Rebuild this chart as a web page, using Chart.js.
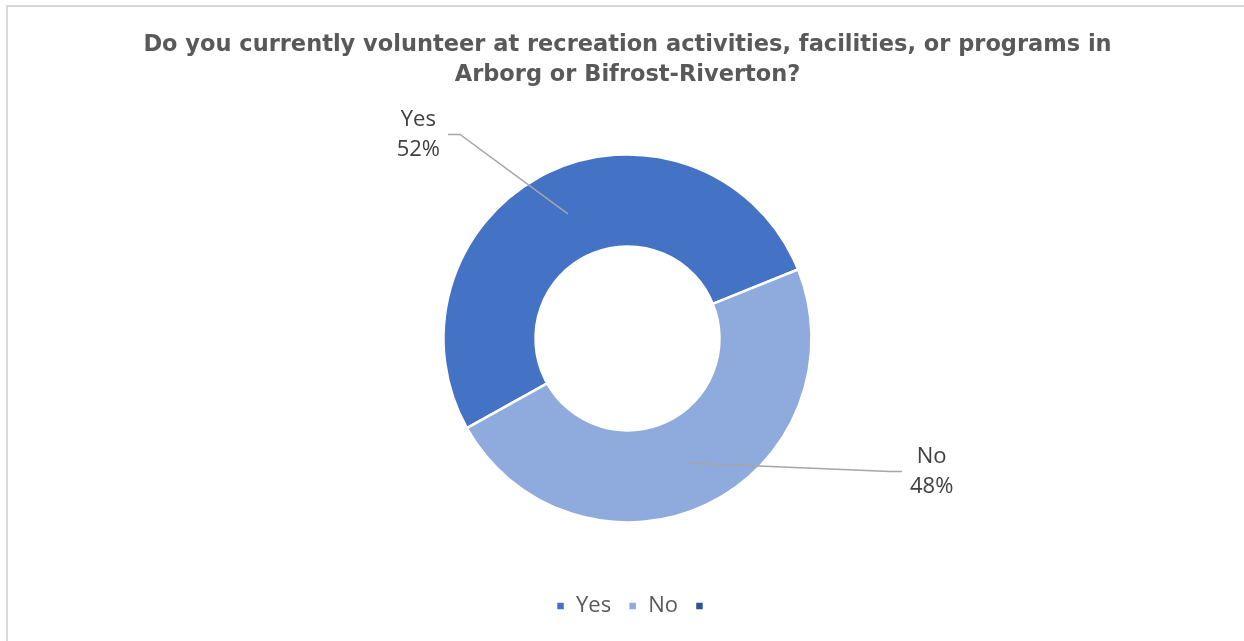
<!DOCTYPE html>
<html>
<head>
<meta charset="utf-8">
<script src="https://cdn.jsdelivr.net/npm/chart.js@4/dist/chart.umd.min.js"></script>
<style>
    html, body { margin: 0; padding: 0; background: #fff; overflow: hidden; }
    #wrap { position: relative; width: 1244px; height: 641px; overflow: hidden; }
    #frame {
        position: absolute; left: 6px; top: 5px; width: 1300px; height: 700px;
        border-left: 2px solid #d9d9d9; border-top: 2px solid #d9d9d9;
    }
    #volunteerChart { position: absolute; left: 0; top: 0; }
</style>
</head>
<body>
<div id="wrap">
    <div id="frame"></div>
    <canvas id="volunteerChart" width="1244" height="641"></canvas>
</div>
<script>
// ------------------ DONNÉES ------------------
const categories = ['Yes', 'No', ''];
const responses = [52, 48, 0];
const sliceColors = ['#4472C4', '#8FAADC', '#2F5597'];
const titleLines = [
    'Do you currently volunteer at recreation activities, facilities, or programs in',
    'Arborg or Bifrost-Riverton?'
];

// Étiquettes "catégorie + %" avec trait de rappel
const sliceLabels = {
    id: 'sliceLabels',
    afterDatasetsDraw(chart, args, opts) {
        const ctx = chart.ctx;
        const meta = chart.getDatasetMeta(0);
        const values = chart.data.datasets[0].data;
        const total = values.reduce((a, b) => a + b, 0);
        const cx = meta.data[0].x;
        const cy = meta.data[0].y;

        ctx.save();
        ctx.font = opts.font;
        ctx.textAlign = 'center';
        ctx.textBaseline = 'middle';

        meta.data.forEach((arc, i) => {
            if (!values[i]) return;
            const place = opts.places[i];
            const lines = [chart.data.labels[i], Math.round(values[i] / total * 100) + '%'];
            const w = Math.max(...lines.map(t => ctx.measureText(t).width));

            const endX = cx + place.dx;
            const endY = cy + place.dy;
            const dir = place.side === 'left' ? -1 : 1;
            const from = arc.tooltipPosition();

            // trait de rappel
            ctx.strokeStyle = opts.lineColor;
            ctx.lineWidth = 1.5;
            ctx.beginPath();
            ctx.moveTo(from.x, from.y);
            ctx.lineTo(endX - dir * 12, endY);
            ctx.lineTo(endX, endY);
            ctx.stroke();

            // texte
            const tx = endX + dir * (8 + w / 2);
            ctx.fillStyle = opts.color;
            lines.forEach((t, k) => {
                ctx.fillText(t, tx, endY + (k - (lines.length - 1) / 2) * opts.lineHeight);
            });
        });
        ctx.restore();
    }
};

// La légende garde un padding en trop à droite : on la recentre
const legendShift = {
    id: 'legendShift',
    afterLayout(chart) {
        chart.legend.left += 8;
        chart.legend.right += 8;
    }
};

const ctx = document.getElementById('volunteerChart').getContext('2d');
const chart = new Chart(ctx, {
    type: 'doughnut',
    data: {
        labels: categories,
        datasets: [{
            data: responses,
            backgroundColor: sliceColors,
            borderColor: '#ffffff',
            borderWidth: 2.5,
            hoverOffset: 0
        }]
    },
    plugins: [sliceLabels, legendShift],
    options: {
        responsive: false,
        animation: false,
        radius: 184,
        cutout: '50%',
        rotation: -119.2,
        layout: { padding: { left: 11, right: 0, top: 0, bottom: 14 } },
        plugins: {
            title: {
                display: true,
                text: titleLines,
                color: '#595959',
                font: { family: 'DejaVu Sans', size: 22.5, weight: 'bold', lineHeight: 1.33 },
                padding: { top: 30, bottom: 9 }
            },
            legend: {
                position: 'bottom',
                labels: {
                    color: '#595959',
                    font: { family: 'Open Sans', size: 22 },
                    boxWidth: 9,
                    boxHeight: 9,
                    padding: 17
                }
            },
            tooltip: { enabled: false },
            sliceLabels: {
                font: '22px "Open Sans"',
                color: '#404040',
                lineColor: '#a6a6a6',
                lineHeight: 30,
                places: [
                    { dx: -179.5, dy: -204, side: 'left' },
                    { dx: 274.5, dy: 133, side: 'right' }
                ]
            }
        }
    }
});
</script>
</body>
</html>
